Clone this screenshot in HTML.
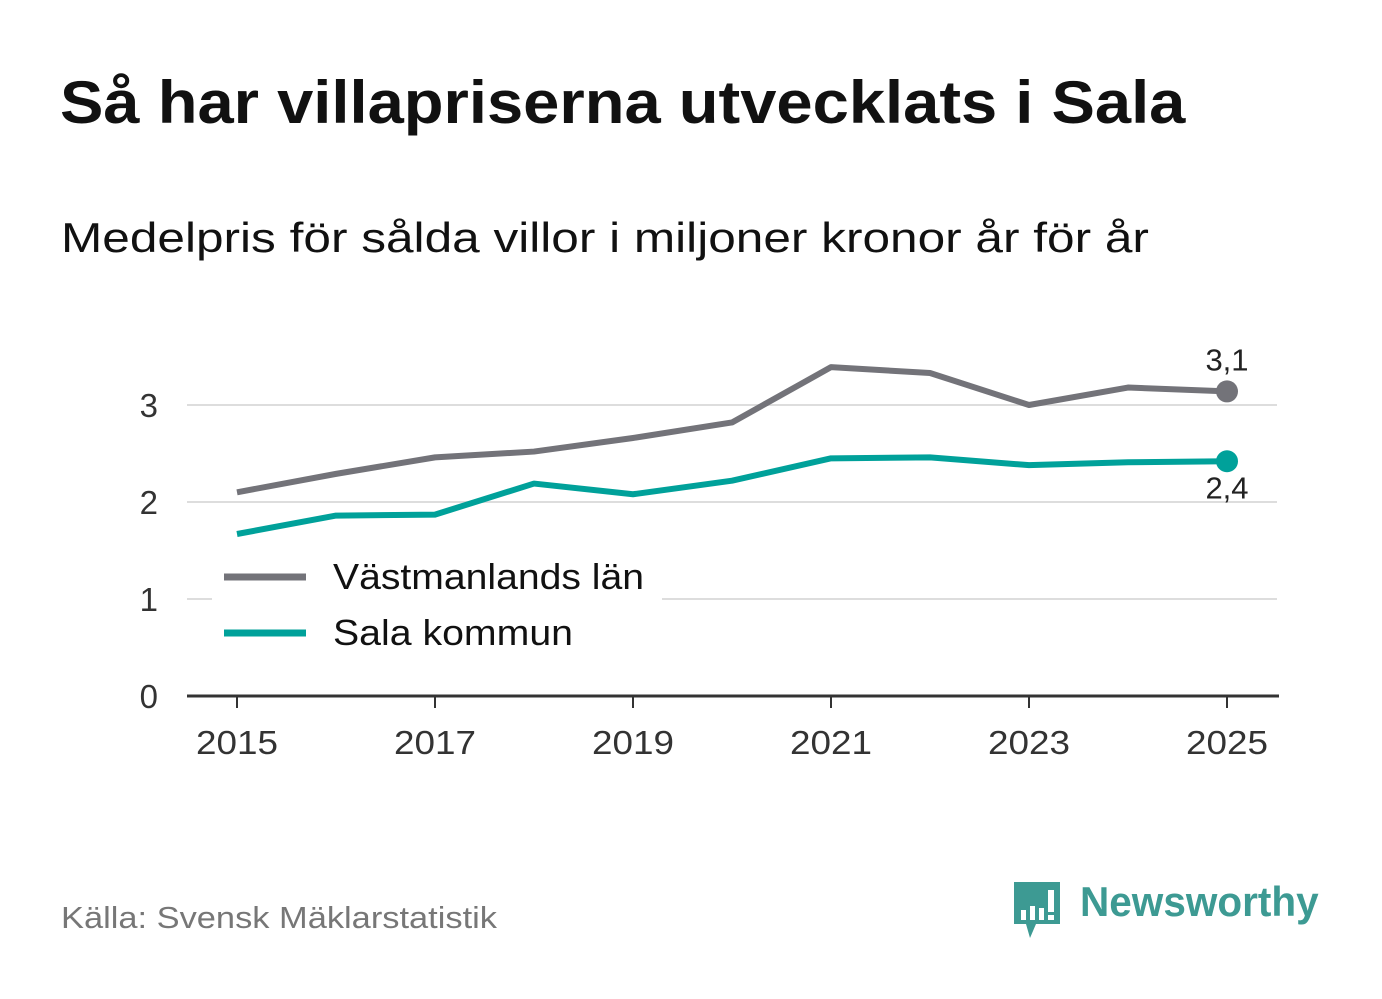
<!DOCTYPE html>
<html><head><meta charset="utf-8"><style>
body{margin:0;width:1382px;height:999px;background:#fff;font-family:"Liberation Sans","DejaVu Sans",sans-serif;overflow:hidden;position:relative}
.t{position:absolute;white-space:nowrap;transform-origin:0 0}
</style></head><body>
<div class="t" style="left:60px;top:68px;font-size:60px;font-weight:bold;color:#111;transform:scaleX(1.085)">Så har villapriserna utvecklats i Sala</div>
<div class="t" style="left:61px;top:214px;font-size:42px;color:#111;transform:scaleX(1.18)">Medelpris för sålda villor i miljoner kronor år för år</div>
<svg id="chart" width="1382" height="999" style="position:absolute;left:0;top:0"></svg>
<div class="t" style="left:61px;top:900px;font-size:31px;color:#777;transform:scaleX(1.11)">Källa: Svensk Mäklarstatistik</div>
<div style="position:absolute;left:1012px;top:880px">
<svg width="50" height="60" style="position:absolute;left:0;top:0"><path d="M2 2h46v42H24l-6 14-4-14H2z" fill="#3d9a93"/><rect x="9" y="30" width="5" height="10" fill="#fff"/><rect x="18" y="26" width="5" height="14" fill="#fff"/><rect x="27" y="28" width="5" height="12" fill="#fff"/><rect x="36" y="10" width="6" height="22" fill="#fff"/><rect x="36" y="35" width="6" height="5" fill="#fff"/></svg>
<div class="t" style="left:68px;top:-2px;font-size:42px;font-weight:bold;color:#3d9a93;transform:scaleX(0.965)">Newsworthy</div></div>
<script>
const years=[2015,2016,2017,2018,2019,2020,2021,2022,2023,2024,2025];
const lan=[2.10,2.29,2.46,2.52,2.66,2.82,3.39,3.33,3.00,3.18,3.14];
const sala=[1.67,1.86,1.87,2.19,2.08,2.22,2.45,2.46,2.38,2.41,2.42];
const yTicks=[0,1,2,3];
const xTicks=[2015,2017,2019,2021,2023,2025];
const svg=document.getElementById('chart');const NS='http://www.w3.org/2000/svg';
const X=v=>237+(v-2015)*99, Y=v=>696-v*97;
function mk(t,a,p){const e=document.createElementNS(NS,t);for(const k in a)e.setAttribute(k,a[k]);(p||svg).appendChild(e);return e;}
yTicks.forEach(v=>{
 if(v>0){const g=mk('line',{x1:187,x2:1277,y1:Y(v),y2:Y(v),stroke:'#ddd','stroke-width':2});
 
 }
 const t=mk('text',{x:158,y:Y(v)+12,'text-anchor':'end','font-size':33,fill:'#333'});t.textContent=v;
 
 
});
const ax=mk('line',{x1:187,x2:1279,y1:696,y2:696,stroke:'#333','stroke-width':3});


xTicks.forEach(v=>{
 mk('line',{x1:X(v),x2:X(v),y1:696,y2:708,stroke:'#333','stroke-width':2});
 const t=mk('text',{x:X(v)-41,y:754,'font-size':33,fill:'#333',textLength:82,lengthAdjust:'spacingAndGlyphs'});t.textContent=v;
 
 
});
function series(d,c,n){
 const p=mk('polyline',{points:d.map((v,i)=>X(years[i])+','+Y(v)).join(' '),fill:'none',stroke:c,'stroke-width':6,'stroke-linejoin':'round'});
 
 
 const e=mk('circle',{cx:X(years[d.length-1]),cy:Y(d[d.length-1]),r:11,fill:c});
 
 
}
series(lan,'#737379','vastmanland');
series(sala,'#00a19a','sala');
const l1=mk('text',{x:1227,y:Y(lan[10])-21,'text-anchor':'middle','font-size':31,fill:'#222'});l1.textContent=lan[10].toFixed(1).replace('.',',');


const l2=mk('text',{x:1227,y:Y(sala[10])+37,'text-anchor':'middle','font-size':31,fill:'#222'});l2.textContent=sala[10].toFixed(1).replace('.',',');


mk('rect',{x:212,y:553,width:450,height:110,fill:'#fff'});
[['Västmanlands län','#737379',577,311],['Sala kommun','#00a19a',633,240]].forEach(([n,c,y,w])=>{
 const g=mk('g',{});
 
 
 mk('line',{x1:224,x2:306,y1:y,y2:y,stroke:c,'stroke-width':7},g);
 const t=mk('text',{x:333,y:y+12,'font-size':36,fill:'#111',textLength:w,lengthAdjust:'spacingAndGlyphs'},g);t.textContent=n;
});
</script>
</body></html>
